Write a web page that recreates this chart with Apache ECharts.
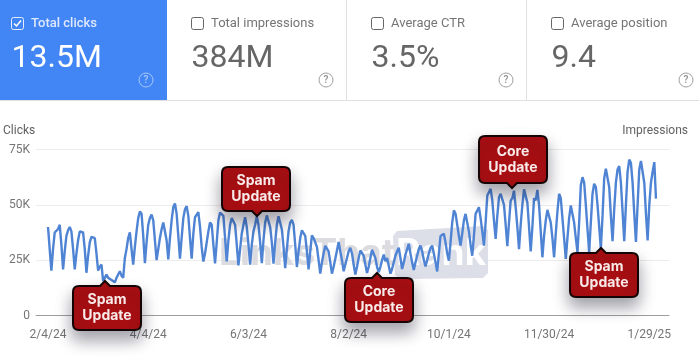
<!DOCTYPE html>
<html>
<head>
<meta charset="utf-8">
<title>Search performance</title>
<script src="https://cdn.jsdelivr.net/npm/echarts@6/dist/echarts.min.js"></script>
<style>
  html, body { margin: 0; padding: 0; background: #fff; }
  #chart { width: 699px; height: 359px; }
</style>
</head>
<body>
<div id="chart"></div>
<script>
// daily clicks in thousands, one row per week
const clicks = [
  40, 30,
  20.3, 30, 37.5, 38, 39, 41, 32,
  20.8, 29, 36, 38.5, 40, 38, 30,
  20.8, 28, 34, 38, 38, 37.5, 30,
  19.3, 27, 33, 35.5, 36, 35, 28,
  20.3, 22, 23, 15.5, 17, 18.5, 17,
  17, 16, 15.5, 15, 17, 18.5, 20,
  18, 17, 26, 30, 35, 37.6, 30,
  23, 31, 38, 44, 47, 46, 36,
  23.6, 33, 41, 44, 45.6, 43, 34,
  25, 30, 35, 39, 42, 42.6, 34,
  25.3, 35, 43, 49, 50.6, 46, 36,
  25.7, 35, 44, 48, 49.4, 45, 35,
  25.7, 37, 44.4, 45, 46.7, 40, 31,
  24.4, 28, 33, 38, 42, 41, 32,
  23.5, 33, 43, 46.5, 47, 45, 35,
  24.4, 34, 41, 44, 44, 41, 32,
  22.6, 30, 37, 41, 44.4, 40, 32,
  23, 32, 38, 41, 44.8, 41, 33,
  23.7, 34, 42, 45.2, 45, 40, 33,
  23.4, 33, 41, 44.8, 44, 39, 31,
  21.4, 30, 38, 42, 43.2, 41, 32,
  21.9, 29, 35, 38.5, 39.2, 36, 29,
  20.8, 29, 36.2, 35, 34.2, 31, 25,
  18.9, 24, 28, 31.5, 32.4, 29, 24,
  18.9, 22, 25.6, 25, 33.2, 29, 25,
  20, 23, 26, 29, 30.6, 28, 23,
  18.5, 22, 26, 29.4, 29, 27, 23,
  19.2, 22, 26, 29.7, 29, 26, 22,
  19.6, 22, 25, 27.5, 24.5, 26, 22.5,
  18.9, 21, 24, 27, 29, 30.6, 26,
  21, 24, 27.5, 30, 32.4, 28, 24,
  20.6, 24, 27, 30, 31.6, 29, 25,
  22.2, 25, 28, 30.5, 31.6, 28, 24,
  19.9, 28, 35.9, 36, 36.9, 33, 28,
  24.8, 33, 42, 47.5, 46, 41, 36,
  31.6, 37, 43, 45.9, 45, 38, 32,
  27, 36, 45.9, 46.5, 48.9, 44, 38,
  31.6, 42, 54.2, 55, 57.2, 52, 43,
  34.6, 45, 53.4, 55, 55.7, 50, 41,
  31.3, 42, 51.9, 53, 56.4, 49, 40,
  30, 41, 50, 57, 57.5, 51, 40,
  29, 40, 53, 52, 56.7, 50, 38,
  26.3, 36, 42.9, 47.7, 47, 42, 35,
  26.3, 37, 47, 55, 53, 44, 35,
  25.6, 35, 44, 49.7, 49, 42, 35,
  28.7, 42, 58.8, 62.5, 60, 50, 39,
  28.7, 42, 55, 59.5, 58, 50, 40,
  30.2, 45, 62, 66.3, 66, 58, 45,
  33.6, 48, 60, 66, 67.5, 60, 47,
  33.6, 50, 65, 70.4, 69, 60, 46,
  33.2, 50, 66, 69.8, 69, 60, 46,
  33.9, 50, 60, 65, 69.3, 52.8,
];
const tickDays = [0, 60, 120, 180, 240, 300, 360];
const tickLabels = ['2/4/24', '4/4/24', '6/3/24', '8/2/24', '10/1/24', '11/30/24', '1/29/25'];
const yTicks = [0, 25, 50, 75];

const metricNames = ['Total clicks', 'Total impressions', 'Average CTR', 'Average position'];
const metricValues = ['13.5M', '384M', '3.5%', '9.4'];

const calloutTexts = ['Spam\nUpdate', 'Spam\nUpdate', 'Core\nUpdate', 'Core\nUpdate', 'Spam\nUpdate'];
const calloutDays = [34, 125, 197, 278, 331];
const calloutValues = [15.4, 44.9, 19.1, 57.4, 30.4];
const calloutBelow = [true, false, true, false, true];

const chart = echarts.init(document.getElementById('chart'));

// left edge of each card's checkbox, and where its help icon sits
const cardLeft = [11, 191, 371, 551];
const helpX = [146, 326, 506, 686];
// how far each callout box starts left of its pointer
const calloutShift = [32, 35, 32, 33, 31];

function metricCards() {
  const els = [
    { type: 'rect', shape: { x: 0, y: 0, width: 167, height: 100 }, style: { fill: '#4285f4' } },
    { type: 'rect', shape: { x: 0, y: 100, width: 699, height: 1 }, style: { fill: '#e0e0e0' } },
    { type: 'rect', shape: { x: 346, y: 0, width: 1, height: 100 }, style: { fill: '#e0e0e0' } },
    { type: 'rect', shape: { x: 526, y: 0, width: 1, height: 100 }, style: { fill: '#e0e0e0' } },
  ];
  metricNames.forEach((name, i) => {
    const on = i === 0;
    const left = cardLeft[i];
    els.push({
      type: 'rect',
      shape: { x: left + 0.5, y: 17.5, width: 12, height: 12, r: 2 },
      style: { fill: 'none', stroke: on ? '#e3edfd' : '#666', lineWidth: 1 },
    });
    if (on) {
      els.push({
        type: 'polyline',
        shape: { points: [[left + 3, 23.5], [left + 5.5, 26], [left + 10, 20.5]] },
        style: { fill: 'none', stroke: '#fff', lineWidth: 1.5 },
      });
    }
    els.push({
      type: 'text',
      x: left + 20,
      y: 23.5,
      style: {
        text: name,
        font: (on ? '500 ' : '400 ') + '13px Roboto',
        fill: on ? '#dfe9fd' : '#757575',
        verticalAlign: 'middle',
      },
    });
    els.push({
      type: 'text',
      x: left + 0.5,
      y: 58.5,
      style: {
        text: metricValues[i],
        font: '400 32px Roboto',
        fill: on ? '#fff' : '#666',
        verticalAlign: 'middle',
      },
    });
    els.push({
      type: 'circle',
      shape: { cx: helpX[i], cy: 80, r: 7 },
      style: { fill: 'none', stroke: on ? '#a9c8fa' : '#a0a0a0', lineWidth: 1 },
    });
    els.push({
      type: 'text',
      x: helpX[i],
      y: 80.5,
      style: {
        text: '?',
        font: '500 10px Roboto',
        fill: on ? '#a9c8fa' : '#909090',
        align: 'center',
        verticalAlign: 'middle',
      },
    });
  });
  return els;
}

function watermark() {
  return [
    {
      type: 'text', x: 219, y: 254, z: 1,
      style: { text: 'LinksThat', font: '700 37px Inter', fill: '#dcdce0', verticalAlign: 'middle' },
    },
    {
      type: 'polygon', z: 1,
      shape: { points: [[393, 236], [397, 231], [483, 226], [488, 230], [488, 273], [483, 278], [400, 279], [395, 275]] },
      style: { fill: '#dcdee8' },
    },
    {
      type: 'text', x: 396, y: 254, z: 1,
      style: { text: 'Rank', font: '700 37px Inter', fill: '#fff', verticalAlign: 'middle' },
    },
  ];
}

// callout box with a small pointer, drawn relative to its tip
function renderCallout(params, api) {
  const i = params.dataIndex;
  const tip = api.coord([api.value(0), api.value(1)]);
  const below = calloutBelow[i];
  const w = 68;
  const h = i === 3 ? 47 : 44;
  const tall = 5;
  const tx = Math.round(tip[0]);
  const ty = Math.round(tip[1]);
  const x = tx - calloutShift[i];
  const y = below ? ty + tall : ty - tall - h;
  const r = 6;
  let d = `M${x + r} ${y}`;
  if (below) d += ` L${tx - 5} ${y} L${tx} ${ty} L${tx + 5} ${y}`;
  d += ` L${x + w - r} ${y} Q${x + w} ${y} ${x + w} ${y + r} L${x + w} ${y + h - r} Q${x + w} ${y + h} ${x + w - r} ${y + h}`;
  if (!below) d += ` L${tx + 5} ${y + h} L${tx} ${ty} L${tx - 5} ${y + h}`;
  d += ` L${x + r} ${y + h} Q${x} ${y + h} ${x} ${y + h - r} L${x} ${y + r} Q${x} ${y} ${x + r} ${y} Z`;
  const top = below ? ty : y;
  const bottom = below ? y + h : ty;
  return {
    type: 'group',
    z2: 10,
    children: [
      {
        type: 'path',
        shape: { pathData: d, x, y: top, width: w, height: bottom - top, layout: 'cover' },
        style: {
          fill: '#a80f12',
          stroke: '#140404',
          lineWidth: 2,
          shadowBlur: 16,
          shadowOffsetY: 9,
          shadowColor: 'rgba(20,20,40,0.4)',
        },
      },
      {
        type: 'text',
        x: x + w / 2,
        y: y + h / 2,
        style: {
          text: calloutTexts[i],
          font: '700 14px Inter',
          lineHeight: 16,
          fill: '#f9eaea',
          align: 'center',
          verticalAlign: 'middle',
        },
      },
    ],
  };
}

const option = {
  animation: false,
  backgroundColor: '#fff',
  grid: { left: 36, right: 30, top: 149.5, bottom: 43.5 },
  xAxis: {
    type: 'value',
    min: -7.2,
    max: 371.8,
    splitLine: { show: false },
    axisLine: { show: true, lineStyle: { color: '#9e9e9e' } },
    axisTick: { show: false },
    axisLabel: {
      customValues: tickDays,
      formatter: (v) => tickLabels[tickDays.indexOf(v)],
      color: '#757575',
      fontFamily: 'Roboto',
      fontSize: 12,
      margin: 13,
    },
  },
  yAxis: {
    type: 'value',
    min: yTicks[0],
    max: yTicks[yTicks.length - 1],
    interval: 25,
    splitLine: { lineStyle: { color: '#ececec' } },
    axisLine: { show: false },
    axisTick: { show: false },
    axisLabel: {
      formatter: (v) => (v === 0 ? '0' : `${v}K`),
      color: '#757575',
      fontFamily: 'Roboto',
      fontSize: 12,
      margin: 6,
    },
  },
  graphic: {
    elements: [
      ...metricCards(),
      ...watermark(),
      {
        type: 'text', x: 3, y: 131,
        style: { text: 'Clicks', font: '12px Roboto', fill: '#616161', verticalAlign: 'middle' },
      },
      {
        type: 'text', x: 688, y: 131,
        style: { text: 'Impressions', font: '12px Roboto', fill: '#616161', align: 'right', verticalAlign: 'middle' },
      },
    ],
  },
  series: [
    {
      type: 'line',
      z: 3,
      showSymbol: false,
      data: clicks.map((v, day) => [day, v]),
      lineStyle: { color: '#4f84d4', width: 2.4 },
    },
    {
      type: 'custom',
      z: 5,
      renderItem: renderCallout,
      data: calloutDays.map((day, i) => [day, calloutValues[i]]),
    },
  ],
};

chart.setOption(option);
</script>
</body>
</html>
